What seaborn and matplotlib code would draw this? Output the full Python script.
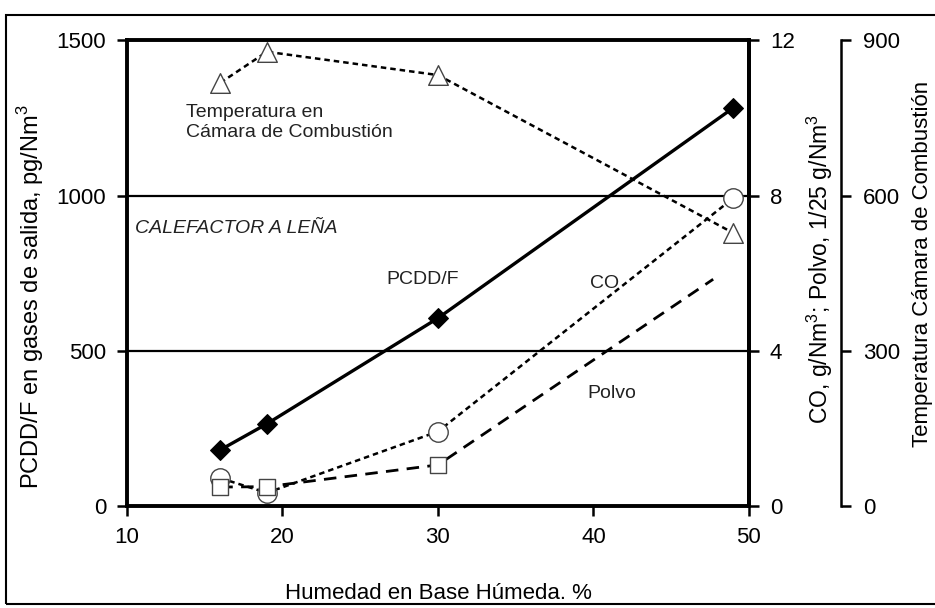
import matplotlib
matplotlib.use("Agg")
import matplotlib.pyplot as plt
import seaborn as sns
from matplotlib.patches import Rectangle

# Valores
humedad       = [16, 19, 30, 49]
pcdd_f        = [182, 266, 606, 1283]      # pg/Nm3 (eje izquierdo)
co            = [0.73, 0.35, 1.93, 7.94]   # g/Nm3 (eje derecho)
humedad_polvo = [16, 19, 30, 47.7]
polvo         = [0.50, 0.51, 1.07, 5.85]   # 1/25 g/Nm3 (eje derecho)
temperatura   = [818, 878, 833, 528]       # tercer eje

x_ticks    = [10, 20, 30, 40, 50]
y1_ticks   = [0, 500, 1000, 1500]
y2_ticks   = [0, 4, 8, 12]
y3_ticks   = [0, 300, 600, 900]

sns.set_theme(style="ticks")
plt.rcParams['font.family'] = ['Liberation Sans', 'DejaVu Sans']
plt.rcParams['mathtext.fontset'] = 'custom'
plt.rcParams['mathtext.rm'] = 'Liberation Sans'

fs = 16
fig = plt.figure(figsize=(9.35, 6.08), dpi=100)
ax = fig.add_axes([0.1358, 0.167, 0.6652, 0.7666])
ax2 = ax.twinx()
ax3 = ax.twinx()

# PCDD/F
sns.lineplot(x=humedad, y=pcdd_f, ax=ax, color='black', linewidth=2.4,
             marker='D', markersize=10, markerfacecolor='black',
             markeredgecolor='black', zorder=5)

# CO
sns.lineplot(x=humedad, y=co, ax=ax2, color='black', linewidth=1.8,
             dashes=(2.2, 1.6), marker='o', markersize=14,
             markerfacecolor='white', markeredgecolor='#444444',
             markeredgewidth=1.0, zorder=4)

# Polvo (sin marcador en el ultimo punto)
sns.lineplot(x=humedad_polvo, y=polvo, ax=ax2, color='black', linewidth=2.0,
             dashes=(4.5, 3), zorder=3)
sns.scatterplot(x=humedad_polvo[:3], y=polvo[:3], ax=ax2, marker='s', s=120,
                facecolor='white', edgecolor='#444444', linewidth=1.0, zorder=6)

# Temperatura
sns.lineplot(x=humedad, y=temperatura, ax=ax3, color='black', linewidth=1.8,
             dashes=(2.2, 1.6), zorder=3)
sns.scatterplot(x=humedad, y=temperatura, ax=ax3, marker='^', s=200,
                facecolor='white', edgecolor='#444444', linewidth=1.0, zorder=6)

# Ejes
ax.set_xlim(10, 50)
ax.set_ylim(0, 1500)
ax2.set_ylim(0, 12)
ax3.set_ylim(0, 900)
ax.set_xticks(x_ticks)
ax.set_yticks(y1_ticks)
ax2.set_yticks(y2_ticks)
ax3.set_yticks(y3_ticks)
ax.yaxis.grid(True, color='black', linewidth=1.6)
ax.set_axisbelow(True)

for a in (ax, ax2, ax3):
    a.tick_params(labelsize=fs, length=7, width=1.8, direction='out',
                  color='black', labelcolor='black', pad=8)
for s in ax.spines.values():
    s.set_linewidth(2.8)
    s.set_color('black')
    s.set_visible(True)
for name, s in ax2.spines.items():
    s.set_visible(name == 'right')
ax2.spines['right'].set_linewidth(2.8)
ax2.spines['right'].set_color('black')
for name, s in ax3.spines.items():
    s.set_visible(name == 'right')
ax3.spines['right'].set_position(('axes', 1.148))
ax3.spines['right'].set_linewidth(1.8)
ax3.spines['right'].set_color('black')
ax3.tick_params(length=7, width=1.8, pad=9)

ax.set_xlabel('Humedad en Base Húmeda. %', fontsize=fs, color='black')
ax.set_ylabel('PCDD/F en gases de salida, pg/Nm$^3$', fontsize=17, color='black')
ax2.set_ylabel('CO, g/Nm$^3$; Polvo, 1/25 g/Nm$^3$', fontsize=16.5, color='black')
ax3.set_ylabel('Temperatura Cámara de Combustión', fontsize=16, color='black')
ax.xaxis.set_label_coords(0.5, -0.165)
ax.yaxis.set_label_coords(-0.13, 0.45)
ax2.yaxis.set_label_coords(1.09, 0.51)
ax3.yaxis.set_label_coords(1.262, 0.52)

# Anotaciones
ax.text(13.8, 1295, 'Temperatura en\nCámara de Combustión', fontsize=14,
        va='top', ha='left', color='#222222')
ax.text(10.5, 896, 'CALEFACTOR A LEÑA', fontsize=14, style='italic',
        va='center', ha='left', color='#222222')
ax.text(26.7, 729, 'PCDD/F', fontsize=14, va='center', ha='left', color='#222222')
ax.text(39.8, 716, 'CO', fontsize=14, va='center', ha='left', color='#222222')
ax.text(39.6, 362, 'Polvo', fontsize=14, va='center', ha='left', color='#222222')

# Marco de la figura
fig.patches.append(Rectangle((0.006, 0.006), 1.0, 0.969, transform=fig.transFigure,
                             fill=False, linewidth=1.5, edgecolor='black'))

fig.savefig('out.png', dpi=100)
